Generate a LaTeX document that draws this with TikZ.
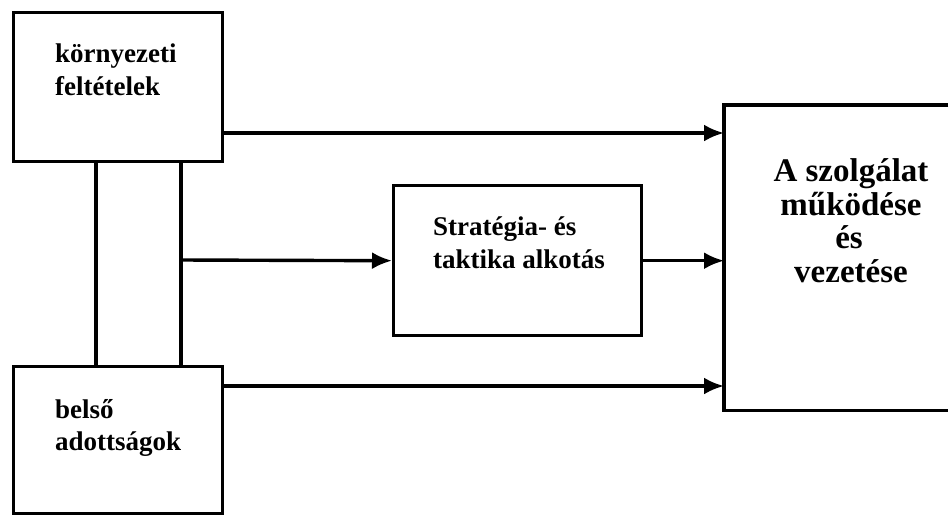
\documentclass[tikz,border=0pt]{standalone}
\usepackage{fontspec}
\setmainfont{Liberation Serif}
\usetikzlibrary{arrows.meta}
\begin{document}
\begin{tikzpicture}[x=1pt,y=-1pt,
  box/.style={draw,line width=3.4pt,rectangle,inner sep=0pt},
  conn/.style={line width=3.4pt},
  arr/.style={line width=3.4pt,-{Latex[length=20pt,width=17pt]}},
  lbl/.style={font=\bfseries\fontsize{27}{33}\selectfont,align=left,inner sep=0pt},
  big/.style={font=\bfseries\fontsize{33}{33.5}\selectfont,align=center,inner sep=0pt}]
\useasboundingbox (0,0) rectangle (949,515);
\fill[white] (0,0) rectangle (949,515);
% boxes
\node[box,anchor=north west,minimum width=209pt,minimum height=149pt] (env) at (12,11) {};
\node[box,anchor=north west,minimum width=209pt,minimum height=147pt] (int) at (12,365) {};
\node[box,anchor=north west,minimum width=248pt,minimum height=150pt] (strat) at (392,184) {};
\node[inner sep=0pt,anchor=north west,minimum width=224pt,minimum height=305pt] (svc) at (724,105) {};
\draw[line width=3.4pt] (svc.north east) -- (svc.north west) -- (svc.south west) -- (svc.south east);
% texts
\node[lbl,anchor=base west] (t1) at (55,62) {környezeti};
\node[lbl,anchor=base west] (t2) at (55,95) {feltételek};
\node[lbl,anchor=base west] (t3) at (55,418) {belső};
\node[lbl,anchor=base west] (t4) at (55,450) {adottságok};
\node[lbl,anchor=base west] (t5) at (433,235) {Stratégia- és};
\node[lbl,anchor=base west] (t6) at (433,268) {taktika alkotás};
\node[big,anchor=base] (r1) at (851,181) {A szolgálat};
\node[big,anchor=base] (r2) at (851,215) {működése};
\node[big,anchor=base] (r3) at (849,248) {és};
\node[big,anchor=base] (r4) at (851,282) {vezetése};
% connectors
\coordinate (v1) at (96,0);
\coordinate (v2) at (181,0);
\coordinate (hm) at (0,260);
\coordinate (ht) at (0,133);
\coordinate (hb) at (0,386);
\draw[conn] (env.south -| v1) -- (int.north -| v1);
\draw[conn] (env.south -| v2) -- (int.north -| v2);
\draw[arr] (v2 |- hm) -- (strat.west);
\draw[arr] (strat.east) -- (svc.west |- strat.east);
\draw[arr] (env.east |- ht) -- (svc.west |- ht);
\draw[arr] (int.east |- hb) -- (svc.west |- hb);
\end{tikzpicture}
\end{document}
